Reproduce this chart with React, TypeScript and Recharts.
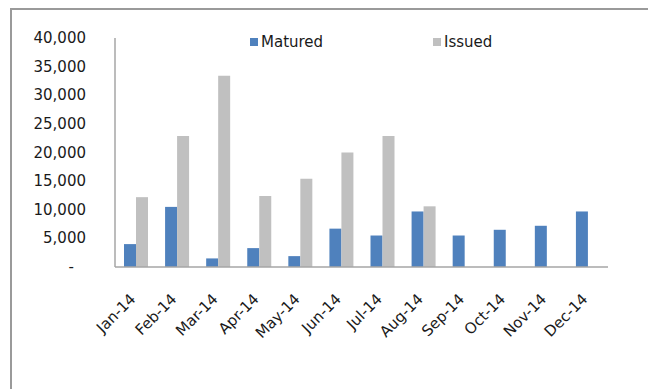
import React from 'react'
import { BarChart, Bar, XAxis, YAxis, Legend } from 'recharts'

const months = [
  'Jan-14', 'Feb-14', 'Mar-14', 'Apr-14', 'May-14', 'Jun-14',
  'Jul-14', 'Aug-14', 'Sep-14', 'Oct-14', 'Nov-14', 'Dec-14',
]
const matured = [4000, 10500, 1500, 3300, 1900, 6700, 5500, 9700, 5500, 6500, 7200, 9700]
const issued = [12200, 22900, 33400, 12400, 15400, 20000, 22900, 10600, null, null, null, null]
const yTicks = [0, 5000, 10000, 15000, 20000, 25000, 30000, 35000, 40000]
const seriesOrder = ['Matured', 'Issued']

const FONT = '"DejaVu Sans", Verdana, sans-serif'
const TEXT = '#1a1a1a'
const BLUE = '#4f81bd'
const GREY = '#c0c0c0'

const data = months.map((m, i) => ({ month: m, Matured: matured[i], Issued: issued[i] }))

function fmt(v: number) {
  return v === 0 ? '-' : v.toLocaleString('en-US')
}

function YTick({ x, y, payload }: any) {
  const v = payload.value as number
  return (
    <text
      x={v === 0 ? x - 12 : x}
      y={y}
      dy={5}
      textAnchor="end"
      fontFamily={FONT}
      fontSize={15}
      fill={TEXT}
    >
      {fmt(v)}
    </text>
  )
}

function XTick({ x, y, payload }: any) {
  const tx = x + 1
  const ty = y + 33
  return (
    <text
      x={tx}
      y={ty}
      textAnchor="end"
      transform={`rotate(-45, ${tx}, ${ty})`}
      fontFamily={FONT}
      fontSize={15}
      fill={TEXT}
    >
      {payload.value}
    </text>
  )
}

// legend items keep the series order, not alphabetical
function LegendRow({ payload }: any) {
  const items = [...(payload || [])].sort(
    (a: any, b: any) => seriesOrder.indexOf(a.value) - seriesOrder.indexOf(b.value)
  )
  return (
    <div style={{ display: 'flex', fontFamily: FONT, fontSize: 15, color: TEXT, lineHeight: '18px' }}>
      {items.map((p: any) => (
        <div key={p.value} style={{ width: 183, display: 'flex', alignItems: 'center' }}>
          <span style={{ width: 8, height: 8, background: p.color, marginRight: 3, display: 'inline-block' }} />
          {p.value}
        </div>
      ))}
    </div>
  )
}

export default function App() {
  return (
    <div style={{ position: 'absolute', left: 0, top: 0, width: 648, height: 389, background: '#fff', overflow: 'hidden' }}>
      <div
        style={{
          position: 'absolute', left: 10, top: 8, width: 700, height: 420,
          borderTop: '2px solid #9a9a9a', borderLeft: '2px solid #9a9a9a',
        }}
      />
      <div style={{ position: 'absolute', left: 0, top: 0 }}>
        <BarChart
          width={648}
          height={389}
          data={data}
          margin={{ top: 38, right: 40, bottom: 0, left: 0 }}
          barGap={0}
          barSize={12}
        >
          <XAxis
            dataKey="month"
            height={122}
            interval={0}
            tickLine={false}
            tickSize={0}
            tickMargin={0}
            axisLine={{ stroke: '#a6a6a6', strokeWidth: 1.5 }}
            tick={<XTick />}
          />
          <YAxis
            width={115}
            domain={[0, 40000]}
            ticks={yTicks}
            interval={0}
            tickLine={false}
            tickSize={0}
            tickMargin={29}
            axisLine={{ stroke: '#a6a6a6', strokeWidth: 1.5 }}
            tick={<YTick />}
          />
          <Legend
            layout="vertical"
            align="center"
            verticalAlign="middle"
            content={<LegendRow />}
            wrapperStyle={{ top: 33, left: 250, width: 400, height: 18 }}
          />
          <Bar dataKey="Matured" fill={BLUE} isAnimationActive={false} />
          <Bar dataKey="Issued" fill={GREY} isAnimationActive={false} />
        </BarChart>
      </div>
    </div>
  )
}
